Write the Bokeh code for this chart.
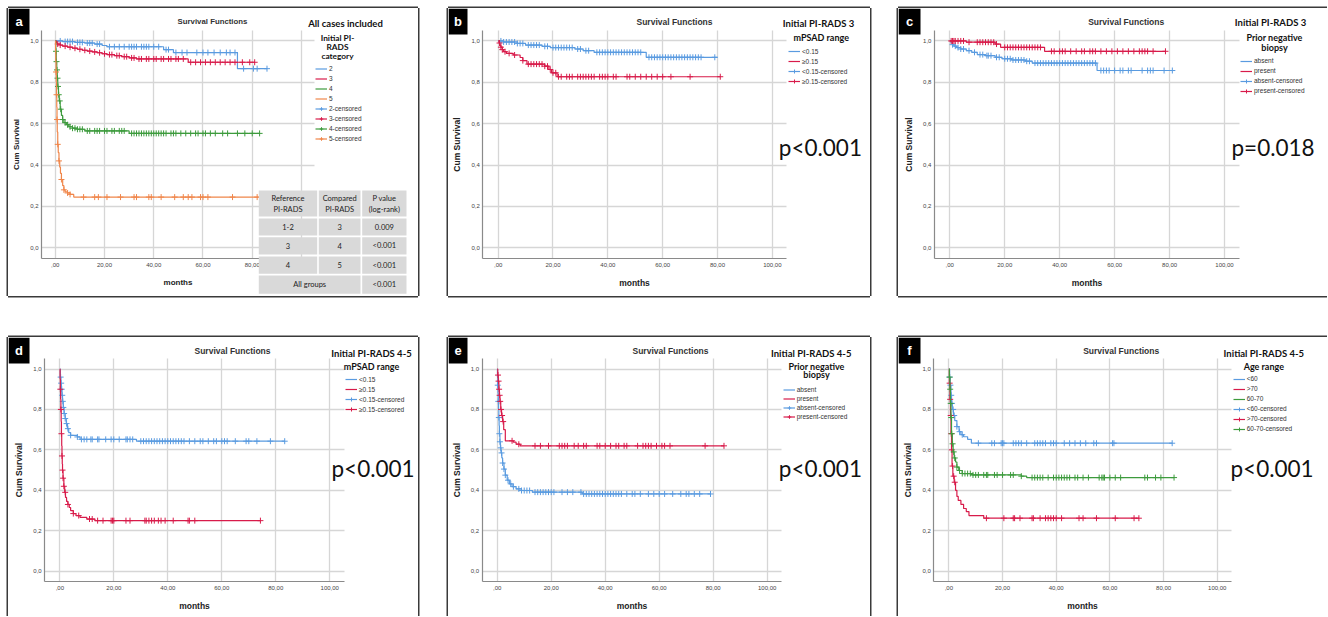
import numpy as np
from bokeh.plotting import figure
from bokeh.models import (Range1d, FixedTicker, Label, BoxAnnotation, Legend,
                          LegendItem, Spacer)
from bokeh.layouts import row, column
from bokeh.embed import file_html
from bokeh.resources import INLINE

# ------------------------------------------------------------------ data
MONTH_TICKS = [0, 20, 40, 60, 80, 100]
MONTH_LABELS = [",00", "20,00", "40,00", "60,00", "80,00", "100,00"]
SURV_TICKS = [0, 0.2, 0.4, 0.6, 0.8, 1]
SURV_LABELS = ["0,0", "0,2", "0,4", "0,6", "0,8", "1,0"]
X_LIMITS = (-5.6, 105.3)
Y_LIMITS = (-0.052, 1.052)

# panel a : all cases, by initial PI-RADS category
A_NAMES = ["2", "3", "4", "5"]
A2_T = [0, 3, 8, 12, 16, 19, 21, 44, 48, 74]
A2_S = [1.0, 0.997, 0.993, 0.99, 0.985, 0.978, 0.972, 0.958, 0.944, 0.866]
A2_END = 86
A2_C = [2, 4, 5, 6, 7, 9, 10, 11, 13, 14, 15, 17, 18, 22, 24, 26, 28, 30, 31, 32, 33, 35,
        36, 37, 38, 40, 42, 45, 46, 49, 51.5, 53.5, 57.5, 60, 62, 64.5, 67, 69.5, 71, 73,
        76.5, 80.5, 82, 86]
A3_T = [0, 0.5, 1, 2, 3, 5, 7, 9, 11, 13, 15, 17, 19, 21, 24, 27, 30, 33, 54]
A3_S = [1.0, 0.99, 0.985, 0.98, 0.975, 0.97, 0.965, 0.96, 0.955, 0.951, 0.947, 0.943,
        0.938, 0.934, 0.929, 0.924, 0.918, 0.913, 0.897]
A3_END = 81
A3_C = [1, 2, 4, 6, 8, 10, 12, 14, 16, 18, 20, 22, 23, 25, 26, 28, 29, 31, 32, 34, 35, 37,
        38, 40, 41, 43, 44, 46, 47, 49, 50, 52, 55, 57, 59, 61, 63, 65, 67, 69, 71, 73, 76,
        79, 81]
A4_T = [0, 0.2, 0.4, 0.6, 0.8, 1.0, 1.3, 1.6, 2.0, 2.5, 3.0, 3.5, 4.5, 5.5, 7, 9, 12, 30]
A4_S = [1.0, 0.95, 0.9, 0.86, 0.82, 0.78, 0.74, 0.71, 0.67, 0.64, 0.62, 0.605, 0.595,
        0.585, 0.578, 0.573, 0.565, 0.553]
A4_END = 83
A4_C = [0.3, 0.5, 0.7, 0.9, 1.1, 1.4, 1.8, 2.2, 3, 4, 5, 6, 7, 8, 9, 10, 11, 13, 14, 16,
        17, 18, 20, 21, 23, 24, 26, 27, 28, 31, 32, 33, 34, 35, 36, 37, 38, 39, 40, 41, 42,
        43, 44, 45, 47, 48, 49, 51, 53, 55, 57, 58, 60, 61, 63, 65, 68, 70, 74, 77, 80, 83]
A5_T = [0, 0.1, 0.2, 0.3, 0.4, 0.5, 0.6, 0.7, 0.8, 1.0, 1.2, 1.5, 1.8, 2.1, 2.5, 3.0,
        3.5, 4, 5, 6, 7.5]
A5_S = [1.0, 0.95, 0.9, 0.85, 0.8, 0.74, 0.68, 0.62, 0.56, 0.5, 0.46, 0.42, 0.39, 0.36,
        0.33, 0.3, 0.28, 0.27, 0.265, 0.258, 0.245]
A5_END = 90
A5_C = [0.3, 0.5, 0.7, 1, 1.5, 2.5, 3.5, 5, 6, 11.5, 16, 17.5, 21, 26.5, 32, 33, 38, 39,
        43, 48.5, 52, 54, 55.5, 59, 60, 62, 72, 82]

# table of panel a
TAB_HEAD = [["Reference", "PI-RADS"], ["Compared", "PI-RADS"], ["P value", "(log-rank)"]]
TAB_REF = ["1-2", "3", "4"]
TAB_CMP = ["3", "4", "5"]
TAB_P = ["0.009", "<0.001", "<0.001"]
TAB_ALL = ["All groups", "<0.001"]

# panel b : PI-RADS 3 by mPSAD
B_NAMES = ["<0.15", "\u22650.15"]
B1_T = [0, 2, 7, 10, 16, 19, 28, 31, 35, 54]
B1_S = [1.0, 0.995, 0.988, 0.98, 0.974, 0.968, 0.961, 0.953, 0.945, 0.921]
B1_END = 80
B1_C = [1, 2, 3, 4, 5, 6, 7, 8, 9, 11, 12, 13, 14, 15, 17, 18, 20, 21, 22, 23, 24, 25, 26,
        27, 29, 30, 32, 33, 36, 37, 38, 39, 40, 41, 42, 43, 44, 45, 46, 47, 48, 49, 50, 51,
        52, 55, 56, 57, 58, 59, 60, 61, 62, 63, 64, 65, 66, 67, 68, 69, 70, 71, 72, 73, 74, 79]
B2_T = [0, 0.3, 0.6, 1, 1.5, 2, 3, 5.5, 8, 9, 10.5, 17, 18.5, 19.5, 21.5]
B2_S = [1.0, 0.99, 0.98, 0.97, 0.958, 0.948, 0.94, 0.932, 0.92, 0.905, 0.888, 0.878,
        0.862, 0.846, 0.827]
B2_END = 81
B2_C = [0.5, 1, 1.5, 2.5, 4, 6, 9, 11, 12, 13, 14, 15, 16, 17, 18, 19, 20, 21, 22, 23, 25,
        26, 27, 29, 30, 31, 32, 33, 34, 35, 37, 38, 39, 40, 42, 43, 47, 48, 50, 52, 54, 56,
        58, 60, 63, 70, 81]

# panel c : PI-RADS 3 by prior negative biopsy
C_NAMES = ["absent", "present"]
C1_T = [0, 0.5, 1, 1.5, 2.5, 4, 6, 8, 10, 13, 16.5, 19, 22.5, 27.5, 30, 53.6]
C1_S = [1.0, 0.99, 0.982, 0.975, 0.968, 0.961, 0.953, 0.945, 0.934, 0.929, 0.921, 0.914,
        0.908, 0.902, 0.893, 0.857]
C1_END = 81
C1_C = [1, 2, 3, 4, 5, 7, 9, 11, 12, 13.5, 14, 15, 17, 18, 20, 21, 22, 23, 24, 25, 26, 27,
        28, 29, 31, 32, 33, 34, 35, 36, 37, 38, 39, 40, 41, 42, 43, 44, 45, 46, 47, 48, 49,
        50, 51, 52, 53, 55, 56, 57, 58, 60, 62, 63, 65, 66, 70, 72, 73, 74, 78, 81]
C2_T = [0, 6, 16.5, 18.5, 34.5]
C2_S = [1.0, 0.994, 0.985, 0.969, 0.95]
C2_END = 78.5
C2_C = [0.5, 1, 1.5, 2, 3, 4, 5, 7, 10, 11, 12, 13, 14, 15, 16, 17, 20, 21, 22, 23, 24, 25,
        26, 27, 28, 29, 30, 31, 32, 33, 37, 38, 40, 41, 42, 44, 46, 48, 49, 51, 52, 53, 55,
        57, 59, 61, 63, 65, 67, 69, 70, 71, 72, 74, 78.5]

# panel d : PI-RADS 4-5 by mPSAD
D_NAMES = ["<0.15", "\u22650.15"]
D1_T = [0, 0.2, 0.4, 0.6, 0.8, 1.0, 1.3, 1.6, 2.0, 2.4, 2.8, 3.3, 4, 6.5, 7.5, 28.4]
D1_S = [1.0, 0.96, 0.93, 0.9, 0.87, 0.84, 0.81, 0.78, 0.755, 0.73, 0.705, 0.685, 0.672,
        0.664, 0.652, 0.643]
D1_END = 83.3
D1_C = [0.3, 0.5, 0.7, 0.9, 1.1, 1.3, 1.6, 2, 2.5, 3, 4, 6.5, 8, 9, 10, 11.5, 12, 14, 14.5,
        17, 19, 20, 22, 24.5, 25, 26, 27, 30, 31, 32, 33, 34, 35, 36, 37, 38, 39, 40, 41, 42,
        43, 44, 45, 46, 48, 50, 52, 53, 55, 57, 58, 60, 61, 62, 65, 69, 70, 73, 78, 83.3]
D2_T = [0, 0.1, 0.2, 0.3, 0.4, 0.5, 0.6, 0.7, 0.8, 0.9, 1.0, 1.2, 1.5, 1.8, 2.1, 2.5, 3,
        3.5, 4, 5, 6, 7.5, 10, 13]
D2_S = [1.0, 0.95, 0.9, 0.85, 0.8, 0.74, 0.68, 0.62, 0.57, 0.53, 0.5, 0.46, 0.42, 0.39,
        0.365, 0.345, 0.33, 0.315, 0.3, 0.285, 0.275, 0.266, 0.258, 0.25]
D2_END = 74.3
D2_C = [0.2, 0.4, 0.6, 0.8, 1.0, 1.2, 1.5, 2, 3, 5, 7, 11, 12, 14, 16, 19, 19.5, 20, 24.5,
        26, 31.5, 32, 33, 34, 35, 36.5, 37.5, 39, 42, 47.5, 48, 50, 74.3]

# panel e : PI-RADS 4-5 by prior negative biopsy
E_NAMES = ["absent", "present"]
E1_T = [0, 0.1, 0.2, 0.3, 0.4, 0.5, 0.6, 0.7, 0.8, 1.0, 1.2, 1.4, 1.7, 2.0, 2.5, 3.0, 3.7,
        4.5, 5.5, 7, 9, 13, 31.5]
E1_S = [1.0, 0.96, 0.92, 0.88, 0.84, 0.8, 0.76, 0.72, 0.68, 0.64, 0.61, 0.585, 0.56, 0.535,
        0.505, 0.475, 0.45, 0.432, 0.418, 0.407, 0.399, 0.391, 0.382]
E1_END = 79
E1_C = [0.2, 0.4, 0.6, 0.8, 1.0, 1.3, 1.6, 2, 2.5, 3, 4, 5, 6, 8, 9, 10, 11, 12, 14, 15, 16,
        17, 18, 19, 20, 21, 24, 26, 28, 31, 32, 33, 34, 35, 36, 37, 38, 39, 40, 41, 42, 43,
        44, 45, 46, 48, 50, 51, 53, 56, 58, 60, 62, 65, 68, 70, 71, 73, 75, 79]
E2_T = [0, 0.2, 0.4, 0.6, 0.8, 1.0, 1.3, 1.6, 2.0, 2.4, 3.0, 6.0, 7.0, 8.5]
E2_S = [1.0, 0.97, 0.94, 0.9, 0.87, 0.84, 0.8, 0.77, 0.74, 0.7, 0.645, 0.638, 0.628, 0.62]
E2_END = 84
E2_C = [0.3, 0.5, 0.7, 0.9, 1.1, 1.4, 1.8, 2.2, 5.5, 8, 14, 16, 19, 23, 24, 25, 26, 28.5,
        30, 32, 33, 37, 38, 40, 42, 44, 45, 47, 48, 52, 54, 55, 56, 57, 59, 61, 62, 64, 77, 84]

# panel f : PI-RADS 4-5 by age range
F_NAMES = ["<60", ">70", "60-70"]
F1_T = [0, 0.3, 0.5, 0.8, 1.0, 1.3, 1.7, 2.2, 3.0, 3.8, 4.5, 5.5, 7, 8.4]
F1_S = [1.0, 0.96, 0.92, 0.87, 0.83, 0.8, 0.77, 0.745, 0.715, 0.69, 0.675, 0.665, 0.652,
        0.633]
F1_END = 83.2
F1_C = [0.3, 0.6, 0.9, 1.2, 1.6, 2, 3, 4, 5, 11, 16, 17, 19.5, 20, 20.5, 24, 25, 26, 27,
        29, 32, 33, 34, 35, 36, 38, 39, 40, 43, 45, 47, 49, 51, 54, 55, 61, 61.5, 83.2]
F2_T = [0, 0.2, 0.4, 0.6, 0.8, 1.0, 1.2, 1.5, 2.0, 2.5, 3, 3.5, 4.5, 5.5, 6.5, 7.5, 13]
F2_S = [1.0, 0.93, 0.85, 0.77, 0.68, 0.6, 0.52, 0.47, 0.44, 0.4, 0.37, 0.35, 0.33, 0.31,
        0.295, 0.275, 0.262]
F2_END = 70.8
F2_C = [0.3, 0.5, 0.7, 0.9, 1.1, 1.4, 1.8, 2.2, 14, 20.5, 24, 24.5, 26.5, 31, 31.5, 34, 36,
        37, 38, 39, 40, 42, 48.5, 50, 55, 62, 69, 70.8]
F3_T = [0, 0.2, 0.4, 0.6, 0.8, 1.0, 1.3, 1.6, 2.0, 2.5, 3.0, 3.7, 5, 8.5, 27, 29]
F3_S = [1.0, 0.96, 0.9, 0.83, 0.76, 0.68, 0.63, 0.59, 0.56, 0.54, 0.515, 0.498, 0.483,
        0.476, 0.47, 0.463]
F3_END = 83.9
F3_C = [0.3, 0.5, 0.7, 0.9, 1.1, 1.4, 1.8, 2.2, 3, 4, 5, 6, 7, 8, 9, 10, 11, 13, 14, 14.5,
        17, 18, 20, 23, 24, 27, 31, 32, 33, 34, 35, 37, 39, 40, 41, 42, 43, 44, 45, 47, 48,
        50, 52, 56, 57, 57.5, 58, 60, 62, 64, 73, 74, 77, 79, 83.9]

# ------------------------------------------------------------------ style
BLUE, RED, GREEN, ORANGE = "#5a9be0", "#d81b4a", "#3d9b3d", "#f0864a"
SANS = "Liberation Sans"
HEAD = "Lato"
BORDER = "#3a3a3a"
SHADOW = {"l": "-1.5px 0 0 0 " + BORDER, "t": "0 -1.5px 0 0 " + BORDER,
          "r": "1.5px 0 0 0 " + BORDER, "b": "0 1.5px 0 0 " + BORDER}
PVAL_SIZE = 22.5


def surv_at(T, S, t):
    idx = np.searchsorted(np.asarray(T, float), np.asarray(t, float), side="right") - 1
    return np.asarray(S)[np.clip(idx, 0, None)]


# page-pixel layout of every panel: figure box, data frame box (L, R, T, B), decorations
PANELS = [
    dict(letter="a", ox=8, oy=8, w=410, h=288, frame=(41.0, 314.0, 29.7, 258.0),
         sides="ltrb", box=(8, 29), title=(212, 21, 7.8), ax_size=8.0,
         heads=[("All cases included", 345, 23, 9.5), ("Initial PI-", 337, 37, 8.3),
                ("RADS", 337, 46.7, 8.3), ("category", 337, 55.7, 8.3)],
         legend=(315, 68.5, 9, 1), pval=None,
         series=[(A_NAMES[0], A2_T, A2_S, A2_END, A2_C, BLUE),
                 (A_NAMES[1], A3_T, A3_S, A3_END, A3_C, RED),
                 (A_NAMES[2], A4_T, A4_S, A4_END, A4_C, GREEN),
                 (A_NAMES[3], A5_T, A5_S, A5_END, A5_C, ORANGE)]),
    dict(letter="b", ox=448, oy=8, w=422, h=288, frame=(482.3, 786.4, 29.7, 258.0),
         sides="ltrb", box=(448, 467), title=(674, 21, 8.5), ax_size=8.5,
         heads=[("Initial PI-RADS 3", 818, 23, 9.5), ("mPSAD range", 820.7, 37, 9)],
         legend=(788, 51, 10, 0), pval=("p<0.001", 778.3, 146.7),
         series=[(B_NAMES[0], B1_T, B1_S, B1_END, B1_C, BLUE),
                 (B_NAMES[1], B2_T, B2_S, B2_END, B2_C, RED)]),
    dict(letter="c", ox=898, oy=8, w=429, h=288, frame=(933.9, 1238.6, 29.7, 258.0),
         sides="ltb", box=(898, 920), title=(1125.7, 21, 8.5), ax_size=8.5,
         heads=[("Initial PI-RADS 3", 1270, 22, 9.5), ("Prior negative", 1274, 37, 9),
                ("biopsy", 1274, 47, 9)],
         legend=(1240, 60.5, 10, 0), pval=("p=0.018", 1231, 146.7),
         series=[(C_NAMES[0], C1_T, C1_S, C1_END, C1_C, BLUE),
                 (C_NAMES[1], C2_T, C2_S, C2_END, C2_C, RED)]),
    dict(letter="d", ox=8, oy=337, w=410, h=279, frame=(44.2, 343.6, 358.0, 581.2),
         sides="ltr", box=(8, 29), title=(232, 350, 8.5), ax_size=8.5,
         heads=[("Initial PI-RADS 4-5", 371, 352.7, 9.5), ("mPSAD range", 371, 365.7, 9)],
         legend=(345, 379.3, 10, 0), pval=("p<0.001", 331.0, 468),
         series=[(D_NAMES[0], D1_T, D1_S, D1_END, D1_C, BLUE),
                 (D_NAMES[1], D2_T, D2_S, D2_END, D2_C, RED)]),
    dict(letter="e", ox=448, oy=337, w=422, h=279, frame=(481.6, 781.0, 358.0, 581.2),
         sides="ltr", box=(448, 467), title=(670, 350, 8.5), ax_size=8.5,
         heads=[("Initial PI-RADS 4-5", 810.7, 352.7, 9.5), ("Prior negative", 816, 365.7, 9),
                ("biopsy", 816, 374.3, 9)],
         legend=(782.7, 389, 9, 0), pval=("p<0.001", 778.3, 468.3),
         series=[(E_NAMES[0], E1_T, E1_S, E1_END, E1_C, BLUE),
                 (E_NAMES[1], E2_T, E2_S, E2_END, E2_C, RED)]),
    dict(letter="f", ox=898, oy=337, w=429, h=279, frame=(933.3, 1231.0, 358.0, 581.2),
         sides="lt", box=(898, 920), title=(1120.7, 350, 8.5), ax_size=8.5,
         heads=[("Initial PI-RADS 4-5", 1263.3, 352.7, 9.5), ("Age range", 1263.3, 365.7, 9)],
         legend=(1232.7, 378.5, 10, 0), pval=("p<0.001", 1230, 468.3),
         series=[(F_NAMES[0], F1_T, F1_S, F1_END, F1_C, BLUE),
                 (F_NAMES[1], F2_T, F2_S, F2_END, F2_C, RED),
                 (F_NAMES[2], F3_T, F3_S, F3_END, F3_C, GREEN)]),
]


def make_panel(cfg):
    ox, oy, w, h = cfg["ox"], cfg["oy"], cfg["w"], cfg["h"]
    L, R, T, B = cfg["frame"]
    X0, X1 = X_LIMITS
    Y0, Y1 = Y_LIMITS
    kx = (R - L) / (X1 - X0)
    ky = (B - T) / (Y1 - Y0)
    xr = Range1d(X0 - (L - ox) / kx, X1 + (ox + w - R) / kx)
    yr = Range1d(Y0 - (oy + h - B) / ky, Y1 + (T - oy) / ky)
    p = figure(width=w, height=h, x_range=xr, y_range=yr, output_backend="svg",
               toolbar_location=None, min_border=0, background_fill_color="white",
               border_fill_color="white", outline_line_color=None,
               styles={"box-shadow": ", ".join(SHADOW[s] for s in cfg["sides"])})

    def sx(X):
        return X - ox

    def sy(Y):
        return oy + h - Y

    def text(X, Y, s, size, font=SANS, bold=False, align="center", color="#222"):
        p.add_layout(Label(x=sx(X), y=sy(Y), x_units="screen", y_units="screen", text=s,
                           text_font=font, text_font_size=f"{size}px",
                           text_font_style="bold" if bold else "normal",
                           text_align=align, text_baseline="middle", text_color=color))

    def box(Xa, Xb, Ya, Yb, color):
        p.add_layout(BoxAnnotation(left=sx(Xa), right=sx(Xb), top=sy(Ya), bottom=sy(Yb),
                                   left_units="screen", right_units="screen",
                                   top_units="screen", bottom_units="screen",
                                   fill_color=color, fill_alpha=1.0, line_color=None,
                                   line_alpha=0))

    # axes drawn at the edges of the data area
    p.xaxis.fixed_location = Y0
    p.yaxis.fixed_location = X0
    p.xaxis.bounds = X_LIMITS
    p.yaxis.bounds = Y_LIMITS
    for ax, ticks, labels in ((p.xaxis, MONTH_TICKS, MONTH_LABELS),
                              (p.yaxis, SURV_TICKS, SURV_LABELS)):
        ax.ticker = FixedTicker(ticks=ticks)
        ax.major_label_overrides = dict(zip(ticks, labels))
        ax.axis_line_color = "#8a8a8a"
        ax.axis_line_width = 1.2
        ax.major_tick_line_color = None
        ax.minor_tick_line_color = None
        ax.major_tick_out = 0
        ax.major_tick_in = 0
        ax.major_label_text_font = SANS
        ax.major_label_text_font_size = "6px"
        ax.major_label_text_color = "#444"
        ax.axis_label_text_font = SANS
        ax.axis_label_text_font_size = f"{cfg['ax_size']}px"
        ax.axis_label_text_font_style = "bold"
        ax.axis_label_text_color = "#222"
    p.xaxis.axis_label = "months"
    p.yaxis.axis_label = "Cum Survival"
    p.xaxis.major_label_standoff = 4
    p.xaxis.axis_label_standoff = 8
    p.yaxis.major_label_standoff = 3
    p.yaxis.axis_label_standoff = 6

    p.xgrid.ticker = FixedTicker(ticks=MONTH_TICKS)
    p.ygrid.ticker = FixedTicker(ticks=SURV_TICKS)
    for g in (p.xgrid, p.ygrid):
        g.grid_line_color = "#d6d6d6"
        g.grid_line_width = 1.3
    p.xgrid.bounds = X_LIMITS
    p.ygrid.bounds = Y_LIMITS
    try:
        p.xgrid.cross_bounds = Y_LIMITS
        p.ygrid.cross_bounds = X_LIMITS
    except AttributeError:
        p.xgrid.visible = False
        p.ygrid.visible = False
        p.segment(x0=MONTH_TICKS, x1=MONTH_TICKS, y0=[Y0] * len(MONTH_TICKS),
                  y1=[Y1] * len(MONTH_TICKS), line_color="#d6d6d6", line_width=1.3,
                  level="underlay")
        p.segment(x0=[X0] * len(SURV_TICKS), x1=[X1] * len(SURV_TICKS), y0=SURV_TICKS,
                  y1=SURV_TICKS, line_color="#d6d6d6", line_width=1.3, level="underlay")

    # curves
    steps, crosses = [], []
    for name, Ts, Ss, end, C, col in cfg["series"]:
        r = p.step(list(Ts) + [end], list(Ss) + [Ss[-1]], mode="after", line_color=col,
                   line_width=1.2)
        c = p.scatter(C, surv_at(Ts, Ss, C), marker="cross", size=6, line_color=col,
                      line_width=1.0)
        steps.append((name, r))
        crosses.append((name, r, c))

    # legend
    lx, first_c, lh, sp = cfg["legend"]
    items = [LegendItem(label=n, renderers=[r]) for n, r in steps]
    items += [LegendItem(label=n + "-censored", renderers=[r, c]) for n, r, c in crosses]
    n = len(items)
    top = first_c - lh / 2.0
    bottom = top + n * lh + (n - 1) * sp
    leg = Legend(items=items, location=(sx(lx), sy(bottom)), orientation="vertical",
                 label_text_font=SANS, label_text_font_size="6.5px", label_text_color="#333",
                 glyph_width=12, glyph_height=lh, label_height=lh, spacing=sp, padding=0,
                 margin=0, label_standoff=2, border_line_color=None,
                 background_fill_alpha=0)
    p.add_layout(leg)

    # headers
    tx, ty, ts = cfg["title"]
    text(tx, ty, "Survival Functions", ts, bold=True, color="#333")
    for s, X, Y, size in cfg["heads"]:
        text(X, Y, s, size, font=HEAD, bold=True, color="#111")
    if cfg["pval"]:
        s, X, Y = cfg["pval"]
        text(X, Y, s, PVAL_SIZE, font=HEAD, align="left", color="#111")

    # panel letter
    bx0, bx1 = cfg["box"]
    box(bx0, bx1, oy, oy + 26, "black")
    text((bx0 + bx1) / 2.0, oy + 12.5, cfg["letter"], 13, bold=True, color="white")

    # table of log-rank tests (panel a)
    if cfg["letter"] == "a":
        cols = [(258.3, 316.7), (318.3, 360.0), (361.7, 406.0)]
        rows = [(190.0, 216.0), (218.0, 235.0), (236.7, 254.0), (256.0, 273.3), (275.0, 293.3)]
        cell = "#d9d9d9"
        for (xa, xb) in cols:
            for (ya, yb) in rows[:-1]:
                box(xa, xb, ya, yb, cell)
        ya, yb = rows[-1]
        box(cols[0][0], cols[1][1], ya, yb, cell)
        box(cols[2][0], cols[2][1], ya, yb, cell)
        fs = 7.5
        for (xa, xb), lines in zip(cols, TAB_HEAD):
            cx = (xa + xb) / 2
            text(cx, 198.3, lines[0], fs, font=HEAD, color="#222")
            text(cx, 209.3, lines[1], fs, font=HEAD, color="#222")
        for i, vals in enumerate(zip(TAB_REF, TAB_CMP, TAB_P)):
            ya, yb = rows[i + 1]
            for (xa, xb), v in zip(cols, vals):
                text((xa + xb) / 2, (ya + yb) / 2, v, fs, font=HEAD, color="#222")
        ya, yb = rows[-1]
        text((cols[0][0] + cols[1][1]) / 2, (ya + yb) / 2, TAB_ALL[0], fs, font=HEAD,
             color="#222")
        text((cols[2][0] + cols[2][1]) / 2, (ya + yb) / 2, TAB_ALL[1], fs, font=HEAD,
             color="#222")
    return p


figs = [make_panel(c) for c in PANELS]
top_row = row(Spacer(width=8, height=288), figs[0], Spacer(width=30, height=288), figs[1],
              Spacer(width=28, height=288), figs[2])
bot_row = row(Spacer(width=8, height=279), figs[3], Spacer(width=30, height=279), figs[4],
              Spacer(width=28, height=279), figs[5])
layout = column(Spacer(width=1327, height=8), top_row, Spacer(width=1327, height=41), bot_row)

open("out.html", "w").write(file_html(layout, INLINE))
